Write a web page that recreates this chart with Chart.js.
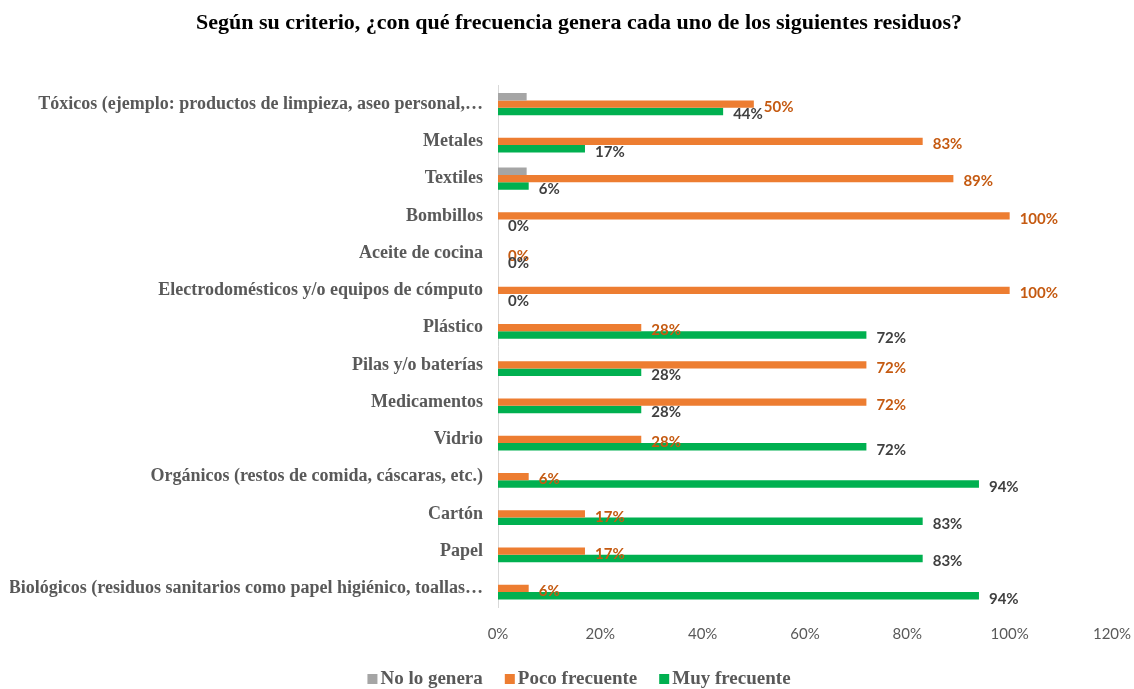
<!DOCTYPE html>
<html>
<head>
<meta charset="utf-8">
<script src="https://cdn.jsdelivr.net/npm/chart.js@4/dist/chart.umd.min.js"></script>
<style>
  html, body { margin: 0; padding: 0; background: #ffffff; }
  #wrap { width: 1134px; height: 689px; position: relative; }
</style>
</head>
<body>
<div id="wrap"><canvas id="c"></canvas></div>
<script>
const categories = [
  "Tóxicos (ejemplo: productos de limpieza, aseo personal,…",
  "Metales",
  "Textiles",
  "Bombillos",
  "Aceite de cocina",
  "Electrodomésticos y/o equipos de cómputo",
  "Plástico",
  "Pilas y/o baterías",
  "Medicamentos",
  "Vidrio",
  "Orgánicos (restos de comida, cáscaras, etc.)",
  "Cartón",
  "Papel",
  "Biológicos (residuos sanitarios como papel higiénico, toallas…"
];
const seriesNames = ["No lo genera", "Poco frecuente", "Muy frecuente"];
const noLoGenera    = [5.6, 0, 5.6, 0, 0, 0, 0, 0, 0, 0, 0, 0, 0, 0];
const pocoFrecuente = [50, 83, 89, 100, 0, 100, 28, 72, 72, 28, 6, 17, 17, 6];
const muyFrecuente  = [44, 17, 6, 0, 0, 0, 72, 28, 28, 72, 94, 83, 83, 94];
const xTicksMax = 120;
const xTickStep = 20;
const titleText = "Según su criterio, ¿con qué frecuencia genera cada uno de los siguientes residuos?";

const colors = ["#A5A5A5", "#ED7D31", "#00B050"];
const labelColors = [null, "#C55A11", "#404040"];
const centerX = 579;

const dataLabelPlugin = {
  id: 'dataLabels',
  afterDatasetsDraw(chart) {
    const ctx = chart.ctx;
    ctx.save();
    ctx.font = "bold 15px Lato";
    ctx.textAlign = "left";
    ctx.textBaseline = "middle";
    chart.data.datasets.forEach((ds, di) => {
      if (!labelColors[di]) return;
      const meta = chart.getDatasetMeta(di);
      meta.data.forEach((el, i) => {
        ctx.fillStyle = labelColors[di];
        ctx.fillText(Math.round(ds.data[i]) + "%", el.x + 10, el.y + 3);
      });
    });
    ctx.restore();
  }
};

const titleLegendPlugin = {
  id: 'titleLegend',
  afterDraw(chart) {
    const ctx = chart.ctx;
    ctx.save();
    // title
    ctx.font = "bold 22px 'Liberation Serif'";
    ctx.fillStyle = "#000000";
    ctx.textAlign = "center";
    ctx.textBaseline = "middle";
    ctx.fillText(titleText, centerX, 23);
    // legend
    ctx.font = "bold 19px 'Liberation Serif'";
    ctx.textAlign = "left";
    const box = 10, gapBox = 3, gapItem = 22;
    const items = chart.data.datasets.map(ds => ({ text: ds.label, color: ds.backgroundColor, w: ctx.measureText(ds.label).width }));
    let total = 0;
    items.forEach((it, i) => { total += box + gapBox + it.w + (i < items.length - 1 ? gapItem : 0); });
    let x = centerX - total / 2;
    const y = 679;
    items.forEach(it => {
      ctx.fillStyle = it.color;
      ctx.fillRect(x, y - 5, box, box);
      x += box + gapBox;
      ctx.fillStyle = "#595959";
      ctx.fillText(it.text, x, y);
      x += it.w + gapItem;
    });
    ctx.restore();
  }
};

new Chart(document.getElementById('c'), {
  type: 'bar',
  data: {
    labels: categories,
    datasets: [
      { label: seriesNames[0], data: noLoGenera, backgroundColor: colors[0] },
      { label: seriesNames[1], data: pocoFrecuente, backgroundColor: colors[1] },
      { label: seriesNames[2], data: muyFrecuente, backgroundColor: colors[2] }
    ]
  },
  options: {
    indexAxis: 'y',
    responsive: true,
    maintainAspectRatio: false,
    animation: false,
    datasets: { bar: { categoryPercentage: 0.6, barPercentage: 1.0, borderWidth: 0 } },
    layout: { padding: { left: 10, right: 22, top: 85.5, bottom: 35 } },
    scales: {
      x: {
        min: 0, max: xTicksMax,
        grid: { display: false },
        border: { display: false },
        ticks: {
          stepSize: xTickStep,
          padding: 10.5,
          color: "#595959",
          font: { family: "Lato", size: 15 },
          callback: v => v + "%"
        },
        afterFit(scale) { scale.paddingRight = 0; scale.paddingLeft = 0; }
      },
      y: {
        grid: { display: false, drawTicks: false },
        border: { display: true, color: "#D9D9D9", width: 1 },
        ticks: {
          padding: 15,
          autoSkip: false,
          color: "#595959",
          font: { family: "Liberation Serif", size: 18, weight: "bold" }
        },
        afterFit(scale) { scale.width = 488; }
      }
    },
    plugins: {
      title: { display: false },
      legend: { display: false },
      tooltip: { enabled: false }
    }
  },
  plugins: [dataLabelPlugin, titleLegendPlugin]
});
</script>
</body>
</html>
